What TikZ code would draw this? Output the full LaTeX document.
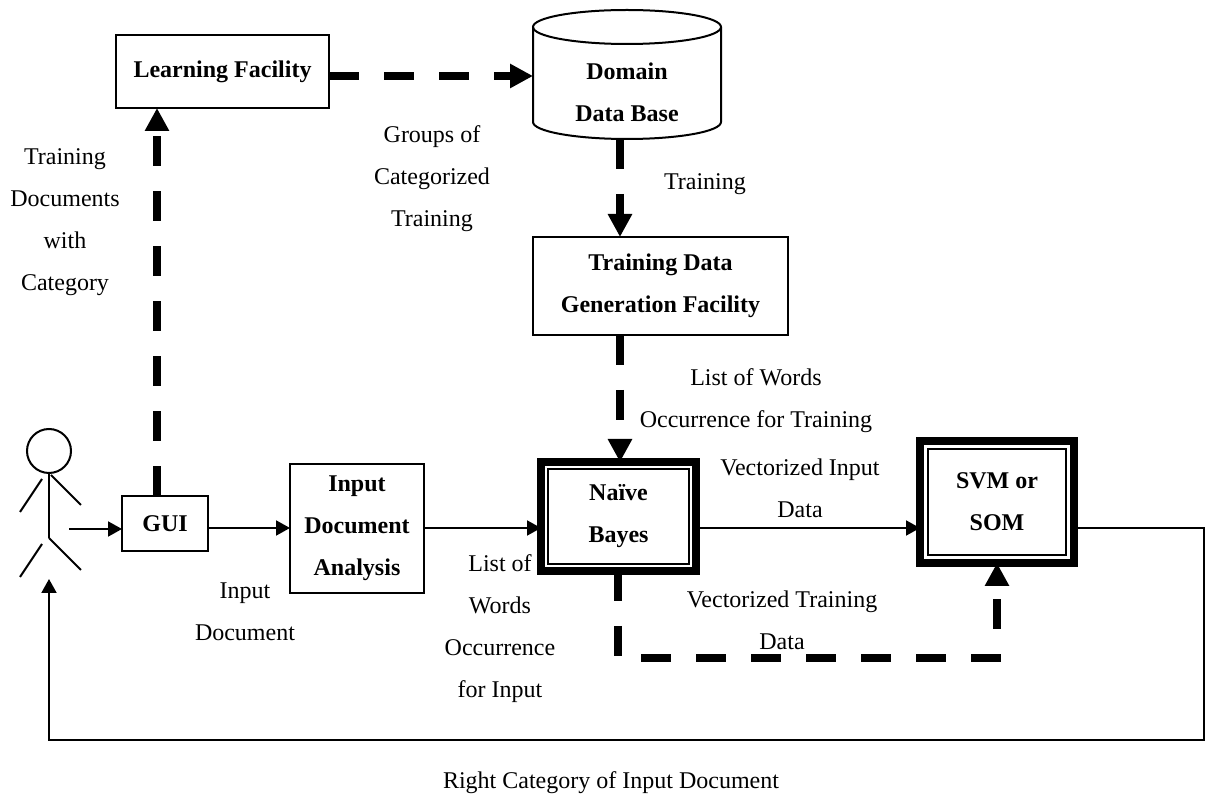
\documentclass[tikz,border=0pt]{standalone}
\usepackage{fontspec}
\setmainfont{Liberation Serif}
\usetikzlibrary{arrows.meta}
\begin{document}
\begin{tikzpicture}[x=0.5pt,y=-0.5pt,
  every node/.style={font=\fontsize{12}{21}\selectfont, align=center, inner sep=0pt, outer sep=0pt},
  box/.style={draw, line width=1pt, font=\fontsize{12}{21}\selectfont\bfseries},
  bigbox/.style={draw, line width=4pt, font=\fontsize{12}{21}\selectfont\bfseries},
  dbtext/.style={font=\fontsize{12}{21}\selectfont\bfseries},
  thinline/.style={line width=1pt},
  thinarrow/.style={line width=1pt, -{Triangle[length=7pt,width=7.5pt]}},
  dasharrow/.style={line width=4pt, dash pattern=on 15pt off 12.5pt, miter limit=10,
    -{Triangle[length=11.5pt,width=11.5pt]}},
]
\useasboundingbox (0,0) rectangle (1207,796);

% ---- boxes ----
\node[box, minimum width=106.5pt, minimum height=36.5pt] (lf) at (222.5,71.5) {Learning Facility};
\node[box, minimum width=43pt, minimum height=27.5pt] (gui) at (165,523.5) {GUI};
\node[box, minimum width=67pt, minimum height=64.5pt] (ida) at (357,528.5) {Input\\Document\\Analysis};
\node[box, minimum width=127.5pt, minimum height=49pt] (tdgf) at (660.5,286) {Training Data\\Generation Facility};
\node[bigbox, minimum width=77.5pt, minimum height=54.5pt] (nb) at (618.5,516.5) {Na\"{\i}ve\\Bayes};
\draw[thinline] ([xshift=3.5pt,yshift=-3.5pt]nb.north west) rectangle ([xshift=-3.5pt,yshift=3.5pt]nb.south east);
\node[bigbox, minimum width=77pt, minimum height=61pt] (svm) at (997,502) {SVM or\\SOM};
\draw[thinline] ([xshift=4pt,yshift=-4pt]svm.north west) rectangle ([xshift=-4pt,yshift=4pt]svm.south east);

% ---- database cylinder ----
\draw[thinline, fill=white] (533,27) -- (533,122) arc[start angle=180, end angle=360, x radius=47pt, y radius=8.5pt] -- (721,27);
\draw[thinline] (627,27) ellipse[x radius=47pt, y radius=8.5pt];
\node[dbtext] (db) at (627,92) {Domain\\Data Base};

% ---- stick figure ----
\draw[thinline] (49,451) circle[radius=11pt];
\draw[thinline] (49,473) -- (49,538);
\draw[thinline] (20,512) -- (42,479);
\draw[thinline] (51,475) -- (81,505);
\draw[thinline] (49,538) -- (81,570);
\draw[thinline] (42,544) -- (20,577);

% ---- coordinates ----
\coordinate (row) at (0,528);
\coordinate (phand) at (69,529);
\coordinate (pfoot) at (49,579);
\coordinate (rt) at (1204,740);
\coordinate (cx1) at (157,0);
\coordinate (dbl) at (533,76);
\coordinate (dbb) at (620,139);
\coordinate (lc) at (618,658);

% ---- solid connectors ----
\draw[thinarrow] (phand) -- (gui.west |- phand);
\draw[thinarrow] (gui.east |- row) -- (ida.west |- row);
\draw[thinarrow] (ida.east |- row) -- (nb.west |- row);
\draw[thinarrow] (nb.east |- row) -- (svm.west |- row);
\draw[thinarrow] (svm.east |- row) -- (rt |- row) -- (rt) -- (pfoot |- rt) -- (pfoot);

% ---- dashed connectors ----
\draw[dasharrow] (cx1 |- gui.north) -- (cx1 |- lf.south);
\draw[dasharrow] (lf.east |- dbl) -- (dbl);
\draw[dasharrow] (dbb) -- (dbb |- tdgf.north);
\draw[dasharrow] (dbb |- tdgf.south) -- (dbb |- nb.north);
\draw[dasharrow] (lc |- nb.south) -- (lc) -- (svm.south |- lc) -- (svm.south);

% ---- labels ----
\node (t1) at (65,222.5) {Training\\Documents\\with\\Category};
\node (t2) at (432,179) {Groups of\\Categorized\\Training};
\node (t3) at (705,184) {Training};
\node (t4) at (756,400.5) {List of Words\\Occurrence for Training};
\node (t5) at (800,488) {Vectorized Input\\Data};
\node (t6) at (782,620.5) {Vectorized Training\\Data};
\node (t7) at (245,611.5) {Input\\Document};
\node (t8) at (500,628.5) {List of\\Words\\Occurrence\\for Input};
\node (t9) at (611,783) {Right Category of Input Document};
\end{tikzpicture}
\end{document}
